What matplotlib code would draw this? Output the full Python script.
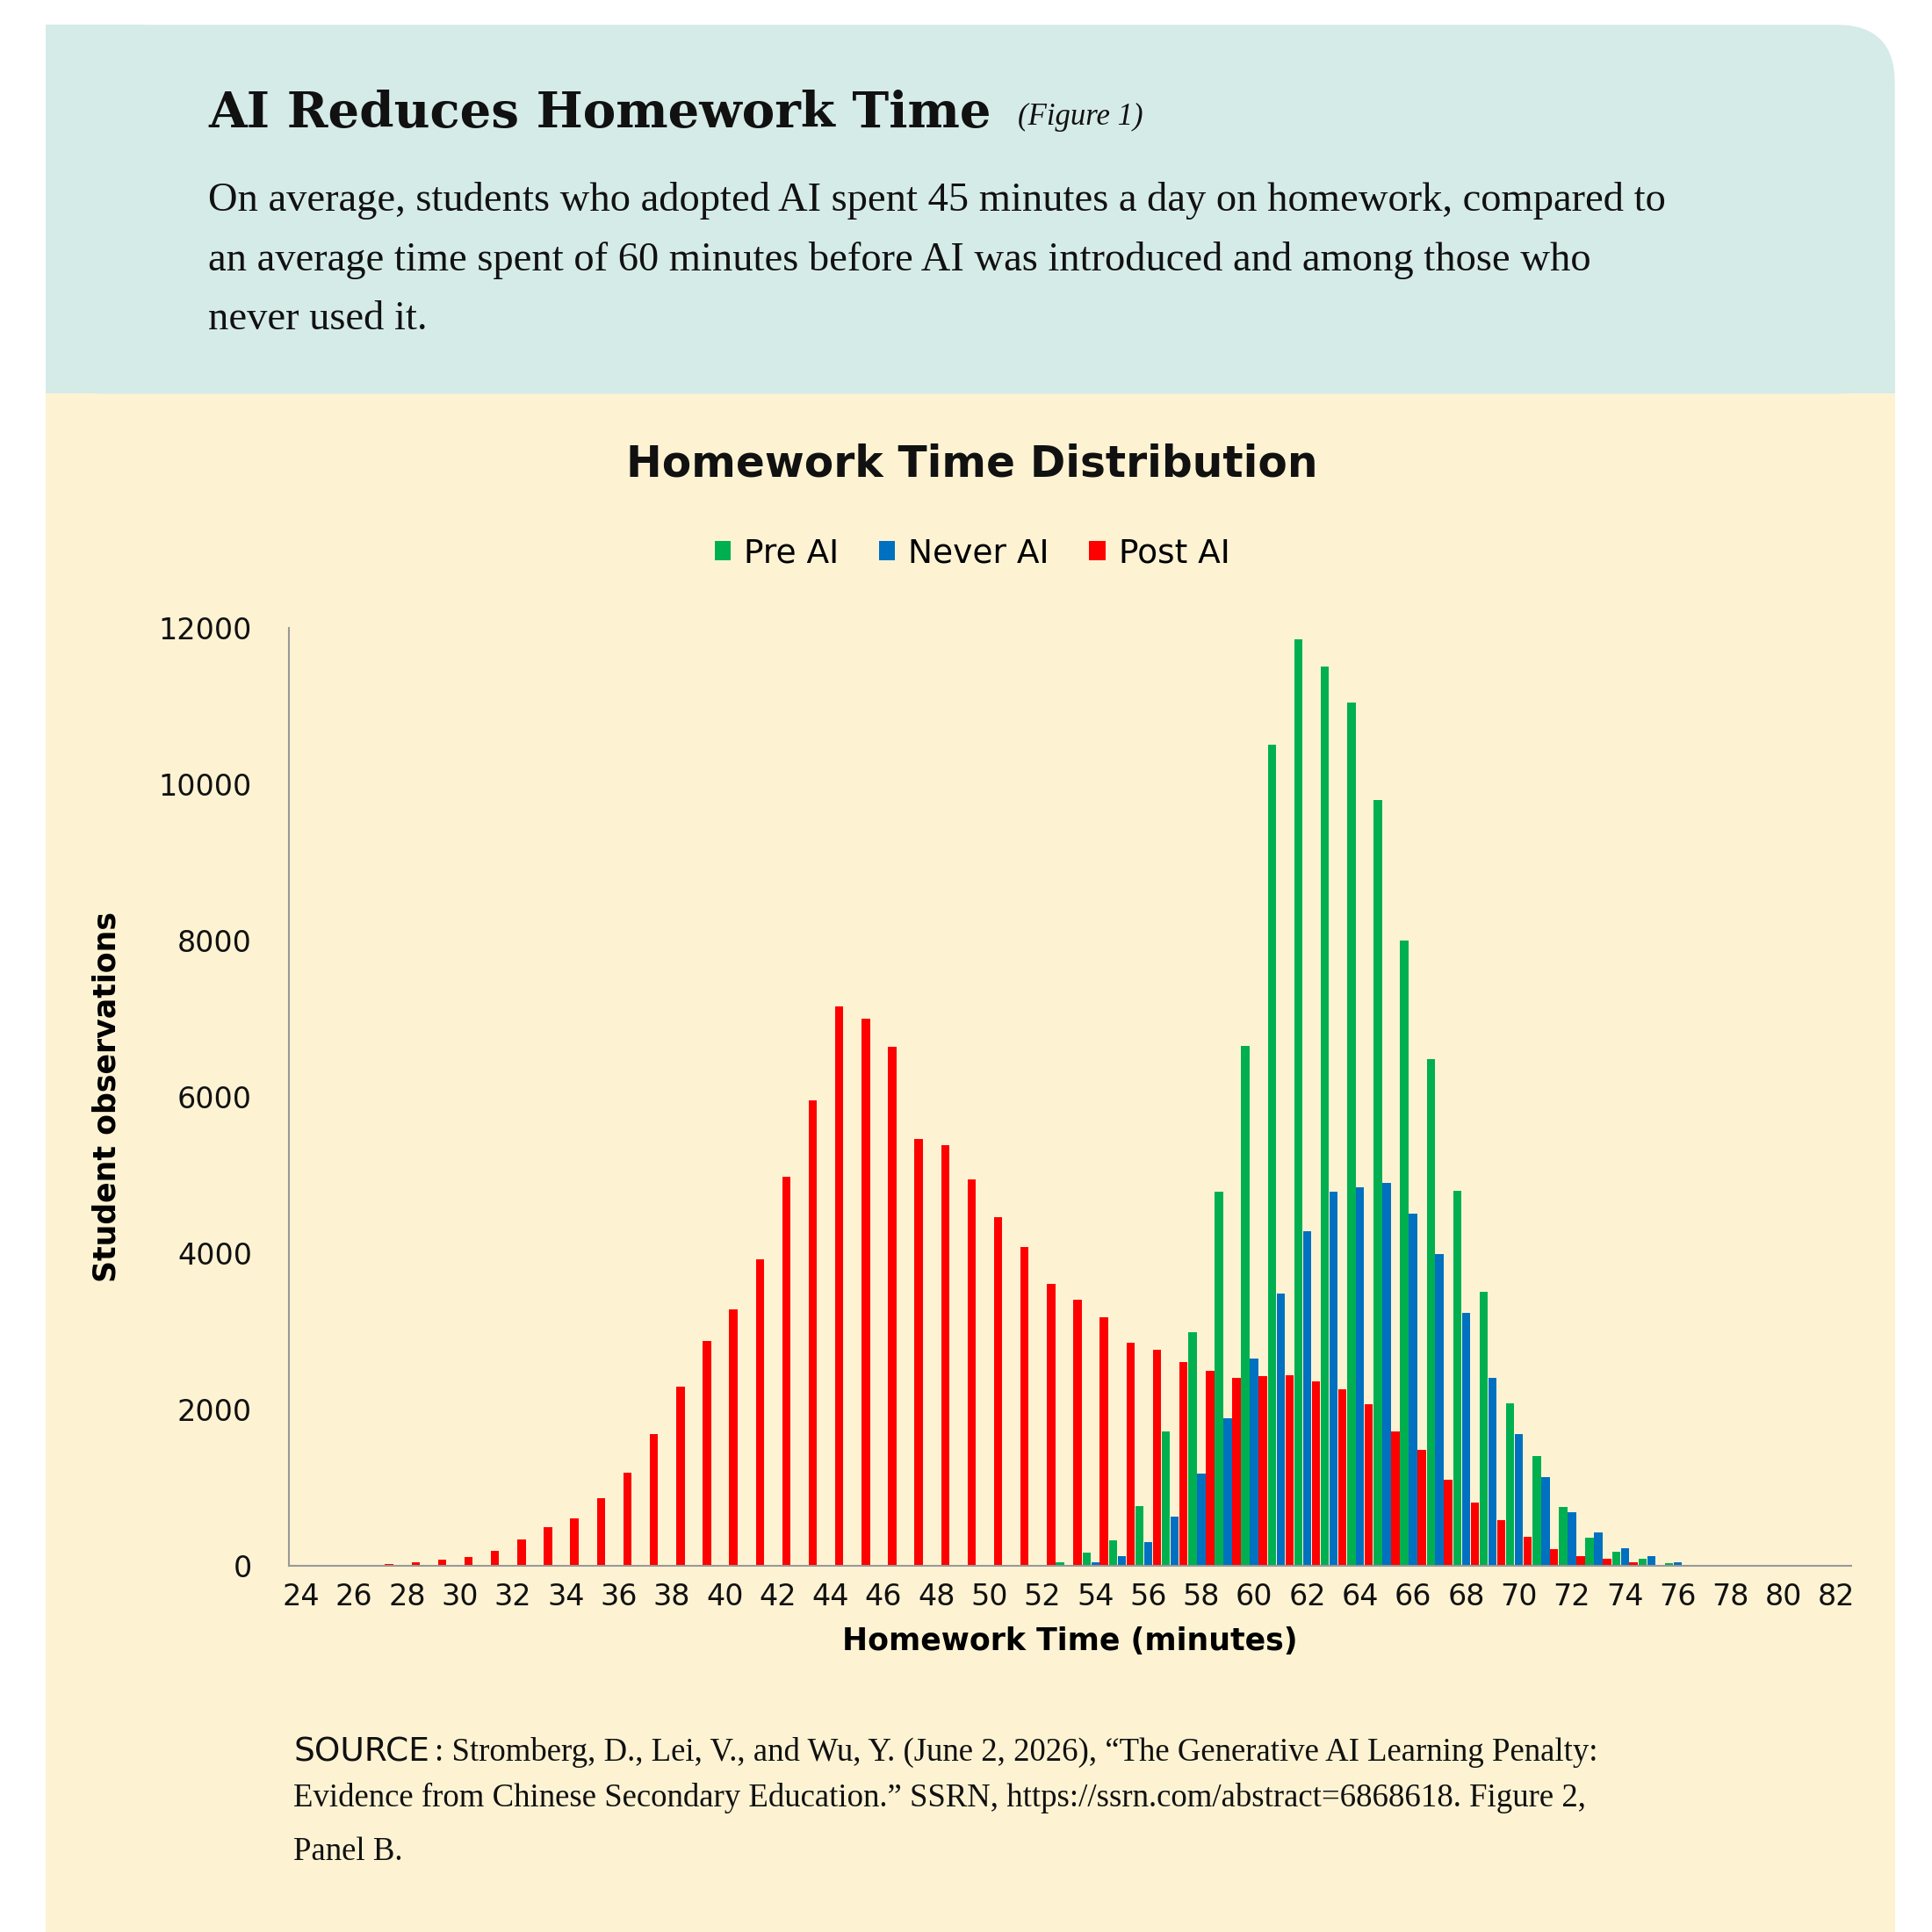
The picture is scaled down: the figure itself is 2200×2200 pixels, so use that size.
import matplotlib
matplotlib.use("Agg")
import matplotlib.pyplot as plt
from matplotlib.patches import FancyBboxPatch, Rectangle
import numpy as np

minutes = list(range(24, 83))
pre_ai = {53: 40, 54: 160, 55: 320, 56: 760, 57: 1720, 58: 2980, 59: 4780, 60: 6650, 61: 10500,
          62: 11850, 63: 11500, 64: 11050, 65: 9800, 66: 8000, 67: 6480, 68: 4800, 69: 3500,
          70: 2080, 71: 1400, 72: 750, 73: 360, 74: 170, 75: 80, 76: 30, 77: 10}
never_ai = {54: 40, 55: 120, 56: 300, 57: 620, 58: 1180, 59: 1880, 60: 2650, 61: 3480, 62: 4280,
            63: 4780, 64: 4840, 65: 4900, 66: 4500, 67: 3980, 68: 3230, 69: 2400, 70: 1680,
            71: 1130, 72: 680, 73: 420, 74: 220, 75: 120, 76: 40}
post_ai = {27: 20, 28: 40, 29: 70, 30: 110, 31: 190, 32: 330, 33: 490, 34: 600, 35: 860, 36: 1190,
           37: 1680, 38: 2290, 39: 2870, 40: 3280, 41: 3920, 42: 4980, 43: 5950, 44: 7150, 45: 7000,
           46: 6640, 47: 5460, 48: 5380, 49: 4940, 50: 4460, 51: 4080, 52: 3600, 53: 3400, 54: 3180,
           55: 2850, 56: 2760, 57: 2600, 58: 2490, 59: 2400, 60: 2420, 61: 2430, 62: 2360, 63: 2250,
           64: 2060, 65: 1720, 66: 1480, 67: 1100, 68: 800, 69: 580, 70: 370, 71: 210, 72: 120,
           73: 80, 74: 40, 75: 10}
series = [("Pre AI", pre_ai, "#00b050"), ("Never AI", never_ai, "#0070c0"), ("Post AI", post_ai, "#ff0000")]
xticks = list(range(24, 83, 2))
yticks = [0, 2000, 4000, 6000, 8000, 10000, 12000]

fig = plt.figure(figsize=(22, 22), dpi=100)
fig.patch.set_facecolor("white")
S = 1 / 1560
def fx(x): return x * S
def fy(y): return 1 - y * S

bg = dict(transform=fig.transFigure, edgecolor="none", zorder=-10)
fig.patches.append(Rectangle((fx(37), fy(1560)), fx(1530 - 37), (1560 - 318) * S, facecolor="#fdf3d3", **bg))
fig.patches.append(FancyBboxPatch((fx(37), fy(318)), fx(1530 - 37), (318 - 20) * S,
                                  boxstyle="round,pad=0,rounding_size=0.03", facecolor="#d5ebe8", **bg))
fig.patches.append(Rectangle((fx(37), fy(318)), fx(1530 - 37), 60 * S, facecolor="#d5ebe8", **bg))
fig.patches.append(Rectangle((fx(37), fy(318)), 80 * S, (318 - 20) * S, facecolor="#d5ebe8", **bg))

serif = "DejaVu Serif"
fig.text(fx(168), fy(92), "AI Reduces Homework Time", fontsize=40.5, fontweight="bold",
         family=serif, va="center", color="#111")
fig.text(fx(822), fy(95), "(Figure 1)", fontsize=25, style="italic", family="Liberation Serif",
         va="center", color="#111")
sub = ["On average, students who adopted AI spent 45 minutes a day on homework, compared to",
       "an average time spent of 60 minutes before AI was introduced and among those who",
       "never used it."]
for i, line in enumerate(sub):
    fig.text(fx(168), fy(162 + 48 * i), line, fontsize=33.5, family="Liberation Serif", va="center", color="#111")

fig.text(fx(785), fy(375), "Homework Time Distribution", fontsize=35, fontweight="bold",
         ha="center", va="center", color="#111")

ax = fig.add_axes([fx(233), fy(1264), fx(1495 - 233), (1264 - 507) * S])
ax.set_facecolor("none")
w = 0.33
offs = [-w, 0, w]
for (name, d, c), o in zip(series, offs):
    ys = [d.get(m, 0) for m in minutes]
    ax.bar(np.array(minutes) + o, ys, width=w * 0.95, color=c, label=name, zorder=2)
ax.set_xlim(23.53, 82.56)
ax.set_ylim(0, 12000)
ax.set_xticks(xticks)
ax.set_yticks(yticks)
ax.tick_params(axis="both", length=0, labelsize=24, colors="#111")
ax.tick_params(axis="x", pad=14)
ax.tick_params(axis="y", pad=30)
for s in ["top", "right"]:
    ax.spines[s].set_visible(False)
for s in ["left", "bottom"]:
    ax.spines[s].set_color("#999")
    ax.spines[s].set_linewidth(1.5)
ax.set_xlabel("Homework Time (minutes)", fontsize=25, fontweight="bold", labelpad=12)
ax.set_ylabel("Student observations", fontsize=25, fontweight="bold", labelpad=30)
fig.legend(*ax.get_legend_handles_labels(), loc="center", bbox_to_anchor=(fx(785), fy(447)),
           ncol=3, frameon=False, fontsize=27, handlelength=0.5, handleheight=0.5,
           handletextpad=0.4, columnspacing=1.2)

src = ["Stromberg, D., Lei, V., and Wu, Y. (June 2, 2026), \u201cThe Generative AI Learning Penalty:",
       "Evidence from Chinese Secondary Education.\u201d SSRN, https://ssrn.com/abstract=6868618. Figure 2,",
       "Panel B."]
fig.text(fx(237), fy(1415), "SOURCE", fontsize=27, va="center", color="#111")
fig.text(fx(351), fy(1415), ": " + src[0], fontsize=26.5, family="Liberation Serif", va="center", color="#111")
fig.text(fx(237), fy(1452), src[1], fontsize=26.5, family="Liberation Serif", va="center", color="#111")
fig.text(fx(237), fy(1495), src[2], fontsize=26.5, family="Liberation Serif", va="center", color="#111")

fig.savefig("out.png", dpi=100, facecolor="white")
